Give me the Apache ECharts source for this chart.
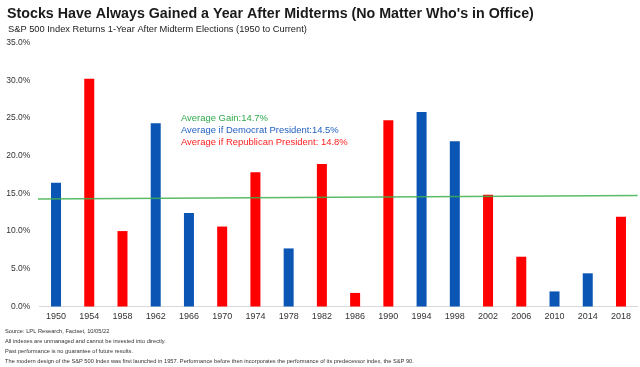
<!DOCTYPE html>
<html>
<head>
<meta charset="utf-8">
<script src="https://cdn.jsdelivr.net/npm/echarts@6/dist/echarts.min.js"></script>
<style>
html,body{margin:0;padding:0;background:#fff;}
#chart{width:640px;height:367px;}
</style>
</head>
<body>
<div id="chart"></div>
<script>
// ---- data ----
const years = ['1950','1954','1958','1962','1966','1970','1974','1978','1982','1986','1990','1994','1998','2002','2006','2010','2014','2018'];
const returns = [16.4, 30.2, 10.0, 24.3, 12.4, 10.6, 17.8, 7.7, 18.9, 1.8, 24.7, 25.8, 21.9, 14.8, 6.6, 2.0, 4.4, 11.9];
const party = ['D','R','R','D','D','R','R','D','R','R','R','D','D','R','R','D','D','R'];
const avgLineStart = 14.25;
const avgLineEnd = 14.7;
const yTicks = [0, 5, 10, 15, 20, 25, 30, 35];
const titleText = "Stocks Have Always Gained a Year After Midterms (No Matter Who's in Office)";
const subtitleText = "S&P 500 Index Returns 1-Year After Midterm Elections (1950 to Current)";
const notes = [
  "Source: LPL Research, Factset, 10/05/22",
  "All indexes are unmanaged and cannot be invested into directly.",
  "Past performance is no guarantee of future results.",
  "The modern design of the S&P 500 Index was first launched in 1957. Performance before then incorporates the performance of its predecessor index, the S&P 90."
];
const annotations = [
  "Average Gain:14.7%",
  "Average if Democrat President:14.5%",
  "Average if Republican President: 14.8%"
];

// ---- styles ----
const partyColor = { D: '#0B56B5', R: '#FF0000' };
const annColors = ['#2EA84A', '#1F5FBF', '#FF2020'];
const font = 'Liberation Sans, Arial, sans-serif';

const chart = echarts.init(document.getElementById('chart'), null, { renderer: 'canvas' });

const titles = [
  { text: titleText, left: 7, top: 7, padding: 0, textStyle: { fontFamily: font, fontSize: 14.25, fontWeight: 'bold', color: '#1a1a1a' } },
  { text: subtitleText, left: 8, top: 25, padding: 0, textStyle: { fontFamily: font, fontSize: 9.3, fontWeight: 'normal', color: '#222' } }
];
notes.forEach((t, i) => titles.push({ text: t, left: 5, top: 328.5 + i * 10, padding: 0, textStyle: { fontFamily: font, fontSize: 5.7, fontWeight: 'normal', color: '#333' } }));
annotations.forEach((t, i) => titles.push({ text: t, left: 181, top: 114 + i * 12, padding: 0, textStyle: { fontFamily: font, fontSize: 9.45, fontWeight: 'normal', color: annColors[i] } }));

chart.setOption({
  animation: false,
  backgroundColor: '#fff',
  title: titles,
  grid: { left: 39.4, right: 2.4, top: 42.5, bottom: 60.5, containLabel: false },
  xAxis: [
    {
      type: 'category', data: years,
      axisLine: { show: true, lineStyle: { color: '#d9d9d9', width: 1 } },
      axisTick: { show: false },
      axisLabel: { color: '#333', fontFamily: font, fontSize: 9, margin: 6 }
    },
    { type: 'value', min: 0, max: 1, show: false }
  ],
  yAxis: {
    type: 'value', min: yTicks[0], max: yTicks[yTicks.length - 1], interval: 5,
    axisLine: { show: false }, axisTick: { show: false },
    splitLine: { show: false },
    axisLabel: { color: '#333', fontFamily: font, fontSize: 8.5, margin: 9, formatter: v => v.toFixed(1) + '%' }
  },
  series: [
    {
      type: 'bar', xAxisIndex: 0, barWidth: 10,
      data: returns.map((v, i) => ({ value: v, itemStyle: { color: partyColor[party[i]] } }))
    },
    {
      type: 'line', xAxisIndex: 1, clip: false, symbol: 'none',
      lineStyle: { color: '#3DB04E', width: 1.5, opacity: 0.85 },
      data: [[-0.016, avgLineStart], [1, avgLineEnd]]
    }
  ]
});
</script>
</body>
</html>
